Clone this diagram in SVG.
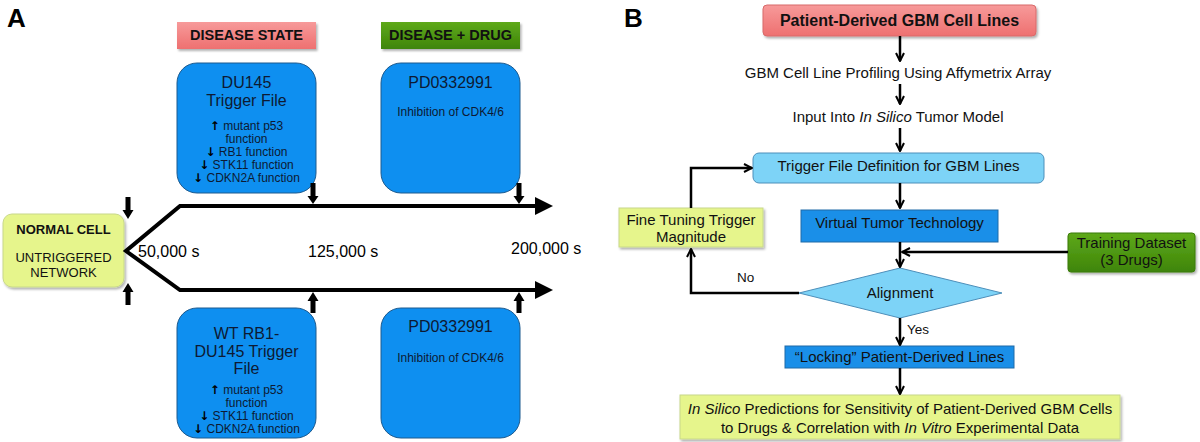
<svg xmlns="http://www.w3.org/2000/svg" width="1200" height="442" viewBox="0 0 1200 442">
<defs>
<filter id="sh" x="-10%" y="-10%" width="130%" height="140%">
<feDropShadow dx="1.5" dy="2" stdDeviation="1.2" flood-color="#000" flood-opacity="0.3"/>
</filter>
<linearGradient id="gPink" x1="0" y1="0" x2="0" y2="1">
<stop offset="0" stop-color="#f79a9a"/><stop offset="1" stop-color="#ee7070"/>
</linearGradient>
<linearGradient id="gGreen" x1="0" y1="0" x2="0" y2="1">
<stop offset="0" stop-color="#5ea91a"/><stop offset="1" stop-color="#3f850a"/>
</linearGradient>
<marker id="ah" viewBox="0 0 10 10" refX="9" refY="5" markerWidth="10" markerHeight="10" markerUnits="userSpaceOnUse" orient="auto">
<path d="M1,1 L9,5 L1,9" fill="none" stroke="#000" stroke-width="2"/>
</marker>
</defs>
<style>
text{font-family:"Liberation Sans",Arial,sans-serif;}
.panel{font-size:26px;font-weight:bold;fill:#000;}
.hdr{font-size:14.5px;font-weight:bold;fill:#111;text-anchor:middle;}
.blue{fill:#0e8ff0;stroke:#1d5a8e;stroke-width:1;}
.bt{font-size:16px;fill:#0d1a33;text-anchor:middle;}
.bs{font-size:12px;fill:#0d1a33;text-anchor:middle;}
.ar{font-family:"DejaVu Sans",sans-serif;font-weight:bold;fill:#000;font-size:12px;}
.time{font-size:16px;fill:#000;}
.yel{fill:#e6f58c;stroke:#c8d88a;stroke-width:1;}
.nc{font-size:13px;fill:#111;text-anchor:middle;}
.thick{fill:none;stroke:#000;stroke-width:4;stroke-linejoin:miter;}
.blk{fill:#000;}
.ft{font-size:15px;fill:#111;text-anchor:middle;}
.conn{fill:none;stroke:#000;stroke-width:2.5;marker-end:url(#ah);}
.lb{fill:#7dd3f7;stroke:#4d8fba;stroke-width:1;}
.vb{fill:#1a8fe8;stroke:#1f6aa8;stroke-width:1;}
</style>

<!-- Panel A -->
<text class="panel" x="7" y="27">A</text>

<g id="disease-state">
<rect x="177" y="22" width="139" height="27" fill="url(#gPink)" filter="url(#sh)"/>
<text class="hdr" x="246.5" y="40">DISEASE STATE</text>
</g>
<g id="disease-drug">
<rect x="381" y="22" width="139" height="27" fill="url(#gGreen)" filter="url(#sh)"/>
<text class="hdr" x="450.5" y="40">DISEASE + DRUG</text>
</g>

<g id="du145">
<rect class="blue" x="177" y="63" width="139" height="130" rx="20"/>
<text class="bt" x="246.5" y="88">DU145</text>
<text class="bt" x="246.5" y="106">Trigger File</text>
<text class="bs" x="246.5" y="130"><tspan class="ar">↑</tspan> mutant p53</text>
<text class="bs" x="246.5" y="143">function</text>
<text class="bs" x="246.5" y="156"><tspan class="ar">↓</tspan> RB1 function</text>
<text class="bs" x="246.5" y="169"><tspan class="ar">↓</tspan> STK11 function</text>
<text class="bs" x="246.5" y="182"><tspan class="ar">↓</tspan> CDKN2A function</text>
</g>

<g id="pd-top">
<rect class="blue" x="381" y="63" width="139" height="130" rx="20"/>
<text class="bt" x="450.5" y="88">PD0332991</text>
<text class="bs" x="450.5" y="116">Inhibition of CDK4/6</text>
</g>

<g id="wt-rb1">
<rect class="blue" x="177" y="308" width="139" height="130" rx="20"/>
<text class="bt" x="246.5" y="339">WT RB1-</text>
<text class="bt" x="246.5" y="357">DU145 Trigger</text>
<text class="bt" x="246.5" y="374">File</text>
<text class="bs" x="246.5" y="394"><tspan class="ar">↑</tspan> mutant p53</text>
<text class="bs" x="246.5" y="407">function</text>
<text class="bs" x="246.5" y="420"><tspan class="ar">↓</tspan> STK11 function</text>
<text class="bs" x="246.5" y="433"><tspan class="ar">↓</tspan> CDKN2A function</text>
</g>

<g id="pd-bottom">
<rect class="blue" x="381" y="308" width="139" height="130" rx="20"/>
<text class="bt" x="450.5" y="332">PD0332991</text>
<text class="bs" x="450.5" y="362">Inhibition of CDK4/6</text>
</g>

<g id="normal-cell">
<rect class="yel" x="3" y="214" width="121" height="73" rx="9" filter="url(#sh)"/>
<text class="nc" x="63.5" y="234" font-weight="bold">NORMAL CELL</text>
<text class="nc" x="63.5" y="262">UNTRIGGERED</text>
<text class="nc" x="63.5" y="277">NETWORK</text>
</g>

<g id="timeline-connectors">
<path class="thick" d="M537,206 H180 L126,251 L180,290 H537"/>
<polygon class="blk" points="535,197 553,206 535,215"/>
<polygon class="blk" points="535,281 553,290 535,299"/>
<path class="blk" d="M125.5,197 H130.5 V210 H133.5 L128,219 L122.5,210 H125.5 Z"/>
<path class="blk" d="M310.5,183 H315.5 V196 H318.5 L313,204 L307.5,196 H310.5 Z"/>
<path class="blk" d="M516.5,183 H521.5 V196 H524.5 L519,204 L513.5,196 H516.5 Z"/>
<path class="blk" d="M125.5,305 H130.5 V292 H133.5 L128,283 L122.5,292 H125.5 Z"/>
<path class="blk" d="M310.5,313 H315.5 V301 H318.5 L313,292 L307.5,301 H310.5 Z"/>
<path class="blk" d="M516.5,313 H521.5 V301 H524.5 L519,292 L513.5,301 H516.5 Z"/>
</g>

<g id="time-labels">
<text class="time" x="138" y="257">50,000 s</text>
<text class="time" x="308" y="257">125,000 s</text>
<text class="time" x="511" y="254">200,000 s</text>
</g>

<!-- Panel B -->
<text class="panel" x="624" y="27">B</text>

<g id="patient-lines">
<rect x="763" y="5" width="273" height="31" rx="4" fill="url(#gPink)" stroke="#d86a6a" stroke-width="1" filter="url(#sh)"/>
<text x="899.5" y="26" font-size="16" font-weight="bold" fill="#111" text-anchor="middle">Patient-Derived GBM Cell Lines</text>
</g>

<g id="profiling">
<text class="ft" x="898" y="78">GBM Cell Line Profiling Using Affymetrix Array</text>
</g>

<g id="input-model">
<text class="ft" x="898" y="122">Input Into <tspan font-style="italic">In Silico</tspan> Tumor Model</text>
</g>

<g id="trigger-def">
<rect class="lb" x="753" y="153" width="291" height="30" rx="6"/>
<text class="ft" x="898.5" y="171">Trigger File Definition for GBM Lines</text>
</g>

<g id="virtual-tumor">
<rect class="vb" x="801" y="210" width="197" height="32"/>
<text class="ft" x="899.5" y="228">Virtual Tumor Technology</text>
</g>

<g id="fine-tuning">
<rect class="yel" x="619" y="208" width="144" height="39" filter="url(#sh)"/>
<text class="ft" x="691" y="225">Fine Tuning Trigger</text>
<text class="ft" x="691" y="242">Magnitude</text>
</g>

<g id="training">
<rect x="1068" y="233" width="127" height="39" rx="3" fill="url(#gGreen)" stroke="#3a7a0a" stroke-width="1" filter="url(#sh)"/>
<text class="ft" x="1131.5" y="248">Training Dataset</text>
<text class="ft" x="1131.5" y="265">(3 Drugs)</text>
</g>

<g id="alignment">
<polygon class="lb" points="900,268 1002,293 900,318 799,293"/>
<text class="ft" x="900" y="298" font-size="15.5">Alignment</text>
</g>

<g id="locking">
<rect class="vb" x="785" y="346" width="229" height="22"/>
<text class="ft" x="899.5" y="362">“Locking” Patient-Derived Lines</text>
</g>

<g id="predictions">
<rect class="yel" x="680" y="395" width="440" height="44" filter="url(#sh)"/>
<text class="ft" x="900" y="414"><tspan font-style="italic">In Silico</tspan> Predictions for Sensitivity of Patient-Derived GBM Cells</text>
<text class="ft" x="900" y="433">to Drugs &amp; Correlation with <tspan font-style="italic">In Vitro</tspan> Experimental Data</text>
</g>

<g id="connectors">
<path class="conn" d="M900,36 V61"/>
<path class="conn" d="M900,84 V104"/>
<path class="conn" d="M900,128 V151"/>
<path class="conn" d="M900,183 V208"/>
<path class="conn" d="M900,242 V267"/>
<path class="conn" d="M1068,252 H902"/>
<path class="conn" d="M799,293 H691 V249"/>
<path class="conn" d="M691,208 V168 H752"/>
<path class="conn" d="M900,318 V345"/>
<path class="conn" d="M900,368 V394"/>
<text x="737" y="282" font-size="13.5" fill="#111">No</text>
<text x="907" y="334" font-size="13.5" fill="#111">Yes</text>
</g>
</svg>
